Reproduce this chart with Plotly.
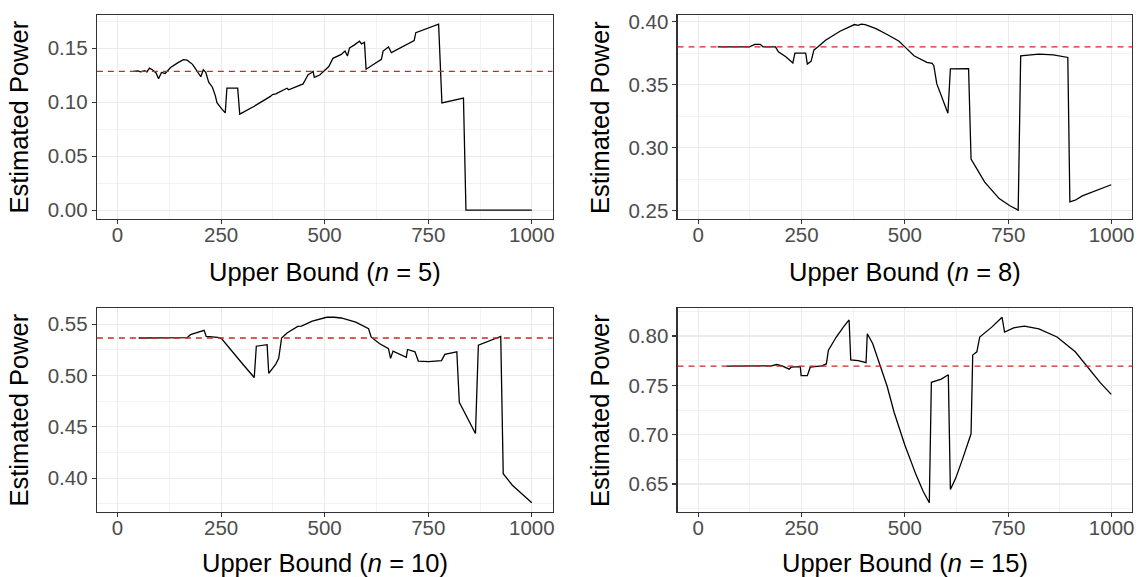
import plotly.graph_objects as go

# ---------------- data ----------------
x5 = [38, 49, 56, 65, 71, 77, 84, 93, 99, 106, 115, 121, 128, 146, 159, 168, 181, 194, 201, 207,
      213, 220, 229, 236, 240, 251, 260, 264, 290, 295, 330, 369, 374, 382, 396, 409, 413, 448, 453, 460,
      468, 472, 475, 488, 510, 520, 540, 549, 555, 560, 571, 584, 589, 596, 600, 637, 641, 654, 661, 716,
      720, 775, 783, 835, 841, 1000]
y5 = [0.1284, 0.129, 0.128, 0.129, 0.128, 0.1315, 0.130, 0.127, 0.1217, 0.1275, 0.1266, 0.129, 0.132,
      0.1366, 0.1394, 0.1388, 0.135, 0.1275, 0.1235, 0.130, 0.1275, 0.1184, 0.1138, 0.106, 0.0995, 0.094,
      0.090, 0.113, 0.113, 0.0889, 0.0962, 0.1053, 0.107, 0.1077, 0.1108, 0.1129, 0.1114, 0.1169, 0.1205,
      0.1254, 0.1272, 0.1284, 0.123, 0.1251, 0.133, 0.1406, 0.1442, 0.1473, 0.1427, 0.1503, 0.1528, 0.1564,
      0.154, 0.1555, 0.1305, 0.1397, 0.1473, 0.151, 0.1458, 0.157, 0.1643, 0.1722, 0.0992, 0.1038, 0.0, 0.0]
h5 = 0.1284

x8 = [47, 124, 137, 150, 157, 187, 194, 212, 229, 234, 260, 264, 273, 280, 290, 308, 343, 378, 387, 394,
      404, 430, 457, 479, 485, 500, 522, 553, 566, 570, 577, 604, 610, 654, 660, 693, 728, 754, 774, 780,
      824, 859, 894, 899, 912, 929, 964, 999]
y8 = [0.380, 0.380, 0.382, 0.382, 0.380, 0.380, 0.376, 0.3721, 0.3672, 0.375, 0.375, 0.3664, 0.3685,
      0.3776, 0.380, 0.3852, 0.3924, 0.3977, 0.397, 0.398, 0.3977, 0.3945, 0.3898, 0.3852, 0.3846, 0.380,
      0.3729, 0.3677, 0.3669, 0.3651, 0.3508, 0.3273, 0.3625, 0.3628, 0.2909, 0.2727, 0.2596, 0.2539,
      0.2505, 0.3729, 0.3742, 0.3737, 0.3716, 0.257, 0.2583, 0.2617, 0.2661, 0.2706]
h8 = 0.380

x10 = [51, 84, 128, 168, 176, 194, 209, 214, 242, 251, 277, 304, 330, 335, 361, 365, 382, 389, 396, 409,
       435, 444, 470, 505, 523, 540, 575, 606, 612, 632, 654, 659, 665, 697, 700, 718, 726, 751, 782, 790,
       819, 825, 864, 871, 925, 931, 953, 979, 1000]
y10 = [0.5365, 0.5365, 0.5362, 0.5368, 0.5397, 0.5423, 0.5439, 0.5381, 0.5372, 0.5359, 0.523, 0.5102,
       0.498, 0.5285, 0.530, 0.5021, 0.5111, 0.5166, 0.5365, 0.5413, 0.5478, 0.548, 0.553, 0.5567, 0.5567,
       0.556, 0.5519, 0.5455, 0.5375, 0.5311, 0.5262, 0.5166, 0.5237, 0.5176, 0.5253, 0.523, 0.514, 0.5134,
       0.5144, 0.5205, 0.523, 0.4739, 0.4434, 0.5294, 0.5381, 0.4042, 0.393, 0.3833, 0.3759]
h10 = 0.5365

x15 = [69, 177, 190, 203, 220, 225, 247, 249, 264, 271, 299, 310, 315, 334, 352, 365, 369, 387, 406, 409,
       422, 439, 457, 474, 500, 527, 544, 559, 564, 588, 605, 610, 623, 640, 660, 664, 674, 681, 710, 735,
       741, 763, 789, 824, 868, 912, 947, 973, 999]
y15 = [0.7694, 0.7697, 0.7711, 0.7697, 0.7664, 0.7684, 0.769, 0.7598, 0.7598, 0.7684, 0.7697, 0.7717,
       0.7857, 0.799, 0.8096, 0.8163, 0.7757, 0.7751, 0.7731, 0.8023, 0.7924, 0.7724, 0.7491, 0.7225,
       0.6893, 0.6593, 0.6427, 0.631, 0.7531, 0.7564, 0.7608, 0.6444, 0.656, 0.676, 0.7009, 0.7807, 0.784,
       0.799, 0.809, 0.819, 0.804, 0.8083, 0.81, 0.8073, 0.799, 0.784, 0.7658, 0.7525, 0.7408]
h15 = 0.7694

panels = [
    ("5", x5, y5, h5),
    ("8", x8, y8, h8),
    ("10", x10, y10, h10),
    ("15", x15, y15, h15),
]

# ---------------- layout geometry (pixels) ----------------
W, H = 1138, 577
col_x = [(97.0, 553.5), (678.7, 1134.3)]
row_y = [(10.0, 217.0), (306.7, 513.3)]
ytitle_x = [19.5, 601.0]
xtitle_dy = [53.5, 51.5]

FONT = "Liberation Sans, Arial, Helvetica, sans-serif"
GRID = "#EBEBEB"
BORDER = "#333333"
TICKFONT = dict(family=FONT, size=20.5, color="#4D4D4D")
TITLEFONT = dict(family=FONT, size=25.5, color="#000000")
HCOLOR = "#CD2626"

fig = go.Figure()
layout = dict(
    width=W, height=H,
    margin=dict(l=0, r=0, t=0, b=0),
    paper_bgcolor="white", plot_bgcolor="white",
    showlegend=False,
    shapes=[], annotations=[],
)

for i, (n, xs, ys, h) in enumerate(panels):
    r, c = divmod(i, 2)
    k = "" if i == 0 else str(i + 1)
    x0, x1 = col_x[c]
    t, b = row_y[r]
    lo, hi = min(ys), max(ys)
    pad = 0.05 * (hi - lo)
    fig.add_trace(go.Scatter(
        x=xs, y=ys, mode="lines",
        line=dict(color="black", width=1.3),
        xaxis="x" + k, yaxis="y" + k, hoverinfo="skip"))
    axcommon = dict(
        showline=True, mirror=True, linecolor=BORDER, linewidth=1.1,
        ticks="outside", ticklen=4, tickwidth=1.1, tickcolor=BORDER,
        showgrid=True, gridcolor=GRID, gridwidth=1.1, zeroline=False,
        tickfont=TICKFONT, fixedrange=True,
    )
    layout["xaxis" + k] = dict(
        axcommon, domain=[x0 / W, x1 / W], anchor="y" + k,
        range=[-50, 1050], tick0=0, dtick=250, ticklabelstandoff=-7,
        minor=dict(tick0=0, dtick=125, showgrid=True, gridcolor=GRID, gridwidth=0.6, ticks=""),
    )
    layout["yaxis" + k] = dict(
        axcommon, domain=[1 - b / H, 1 - t / H], anchor="x" + k,
        range=[lo - pad, hi + pad], tick0=0, dtick=0.05, tickformat=".2f",
        minor=dict(tick0=0, dtick=0.025, showgrid=True, gridcolor=GRID, gridwidth=0.6, ticks=""),
    )
    layout["shapes"].append(dict(
        type="line", xref="x" + k + " domain", yref="y" + k,
        x0=0, x1=1, y0=h, y1=h,
        line=dict(color=HCOLOR, width=1.3, dash="6px,5px"), layer="above"))
    layout["annotations"].append(dict(
        text="Estimated Power", textangle=-90, showarrow=False,
        xref="paper", yref="paper", x=ytitle_x[c] / W, y=1 - (t + b) / 2 / H,
        xanchor="center", yanchor="middle", font=TITLEFONT))
    layout["annotations"].append(dict(
        text="Upper Bound (<i>n</i> = " + n + ")", showarrow=False,
        xref="paper", yref="paper", x=(x0 + x1) / 2 / W, y=1 - (b + xtitle_dy[r]) / H,
        xanchor="center", yanchor="middle", font=TITLEFONT))

fig.update_layout(**layout)
fig.write_html(
    "out.html",
    config={"displayModeBar": False, "staticPlot": True},
    post_script="document.body.style.margin='0px';document.body.style.overflow='hidden';",
)
